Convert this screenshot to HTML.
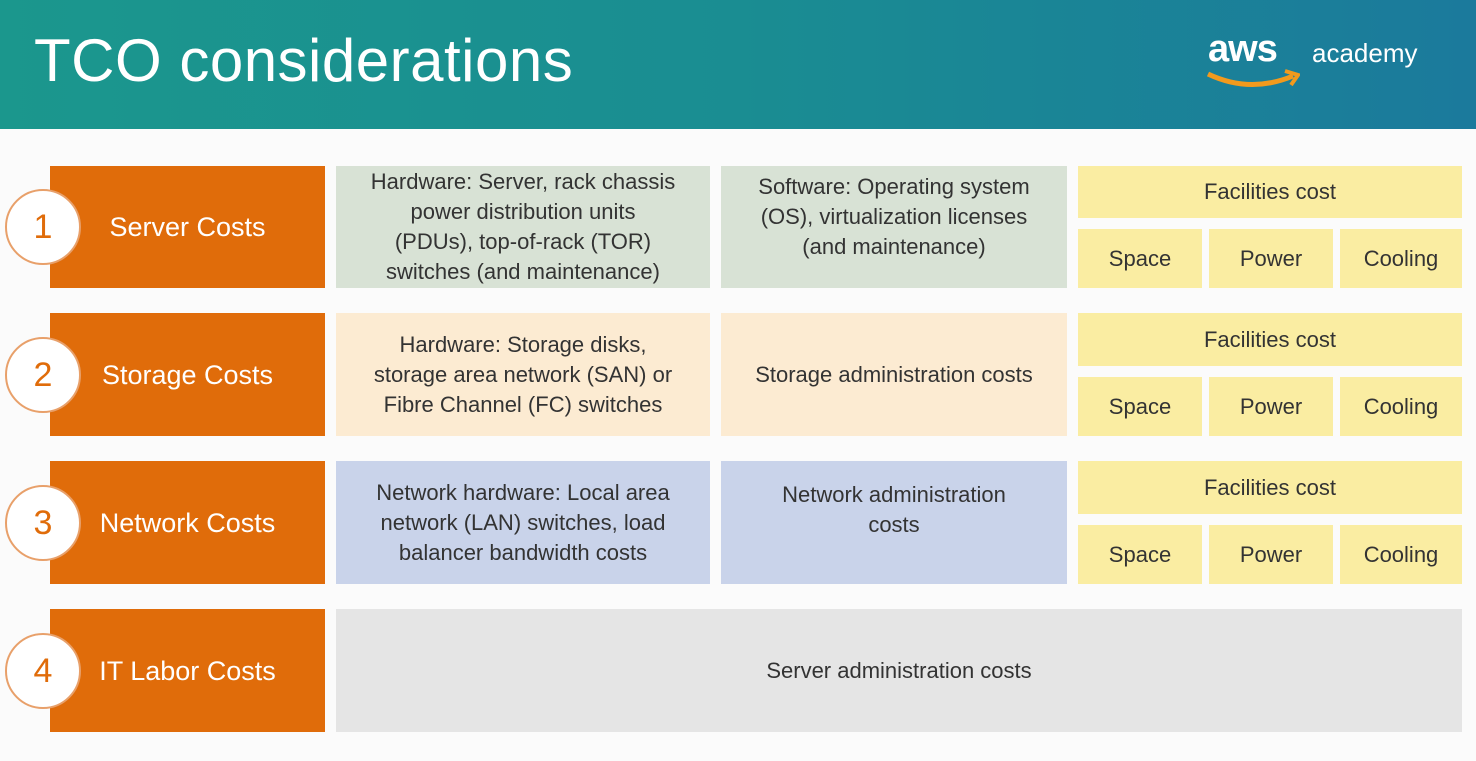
<!DOCTYPE html>
<html><head><style>
body{margin:0;width:1476px;height:761px;background:#fbfbfb;position:relative;overflow:hidden;font-family:"Liberation Sans",sans-serif}
.hd{position:absolute;left:0;top:0;width:1476px;height:129px;background:linear-gradient(90deg,#1b978d 0%,#1a8d92 50%,#1b7a9c 100%)}
.t{position:absolute;left:34px;top:26px;font-size:60px;color:#fff;letter-spacing:0.5px}
.b{position:absolute;display:flex;align-items:center;justify-content:center;text-align:center;color:#333;font-size:22px;line-height:30px;box-sizing:border-box}
.o{background:#e06c0a;color:#fff;font-size:27px}
.c{position:absolute;width:72px;height:72px;border-radius:50%;background:#fff;border:2px solid #e8a06a;color:#e06c0a;font-size:34px;display:flex;align-items:center;justify-content:center}
.y{background:#faeda2}
</style></head><body>
<div class="hd"></div>
<div class="t">TCO considerations</div>
<div style="position:absolute;left:1208px;top:28px;color:#fff;font-size:38px;font-weight:bold;letter-spacing:-1px">aws</div>
<div style="position:absolute;left:1312px;top:38px;color:#fff;font-size:26px">academy</div>
<svg style="position:absolute;left:1205px;top:68px" width="95" height="22"><path d="M3 6 Q45 26 88 8" stroke="#f29a1d" stroke-width="5" fill="none"/><path d="M80 3 L93 7 L86 17" stroke="#f29a1d" stroke-width="4" fill="none"/></svg>

<div class="b o" style="left:50px;top:166px;width:275px;height:122px">Server Costs</div>
<div class="b o" style="left:50px;top:313px;width:275px;height:123px">Storage Costs</div>
<div class="b o" style="left:50px;top:461px;width:275px;height:123px">Network Costs</div>
<div class="b o" style="left:50px;top:609px;width:275px;height:123px">IT Labor Costs</div>
<div class="c" style="left:5px;top:189px">1</div>
<div class="c" style="left:5px;top:337px">2</div>
<div class="c" style="left:5px;top:485px">3</div>
<div class="c" style="left:5px;top:633px">4</div>

<div class="b" style="left:336px;top:166px;width:374px;height:122px;background:#d8e2d5">Hardware: Server, rack chassis<br>power distribution units<br>(PDUs), top-of-rack (TOR)<br>switches (and maintenance)</div>
<div class="b" style="left:721px;top:166px;width:346px;height:122px;background:#d8e2d5;padding-bottom:20px">Software: Operating system<br>(OS), virtualization licenses<br>(and maintenance)</div>
<div class="b" style="left:336px;top:313px;width:374px;height:123px;background:#fcebd2">Hardware: Storage disks,<br>storage area network (SAN) or<br>Fibre Channel (FC) switches</div>
<div class="b" style="left:721px;top:313px;width:346px;height:123px;background:#fcebd2">Storage administration costs</div>
<div class="b" style="left:336px;top:461px;width:374px;height:123px;background:#c9d3ea">Network hardware: Local area<br>network (LAN) switches, load<br>balancer bandwidth costs</div>
<div class="b" style="left:721px;top:461px;width:346px;height:123px;background:#c9d3ea;padding-bottom:26px">Network administration<br>costs</div>
<div class="b" style="left:336px;top:609px;width:1126px;height:123px;background:#e5e5e5">Server administration costs</div>

<div class="b y" style="left:1078px;top:166px;width:384px;height:52px">Facilities cost</div>
<div class="b y" style="left:1078px;top:229px;width:124px;height:59px">Space</div>
<div class="b y" style="left:1209px;top:229px;width:124px;height:59px">Power</div>
<div class="b y" style="left:1340px;top:229px;width:122px;height:59px">Cooling</div>
<div class="b y" style="left:1078px;top:313px;width:384px;height:53px">Facilities cost</div>
<div class="b y" style="left:1078px;top:377px;width:124px;height:59px">Space</div>
<div class="b y" style="left:1209px;top:377px;width:124px;height:59px">Power</div>
<div class="b y" style="left:1340px;top:377px;width:122px;height:59px">Cooling</div>
<div class="b y" style="left:1078px;top:461px;width:384px;height:53px">Facilities cost</div>
<div class="b y" style="left:1078px;top:525px;width:124px;height:59px">Space</div>
<div class="b y" style="left:1209px;top:525px;width:124px;height:59px">Power</div>
<div class="b y" style="left:1340px;top:525px;width:122px;height:59px">Cooling</div>
</body></html>
